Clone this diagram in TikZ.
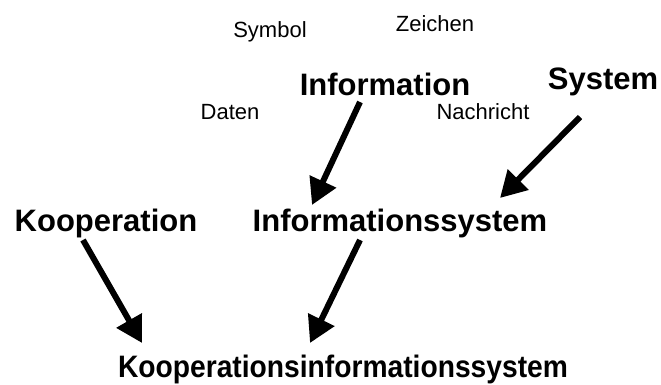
\documentclass[tikz,border=0pt]{standalone}
\usepackage{graphicx}
\usepackage{fontspec}
\setmainfont{Liberation Sans}
\usetikzlibrary{arrows.meta}
\tikzset{
    term/.style={inner sep=0pt, anchor=base, font=\fontsize{22}{26}\selectfont},
    concept/.style={inner sep=0pt, anchor=base, font=\fontsize{31}{36}\selectfont\bfseries},
    bigarrow/.style={line width=6pt, -{Triangle[length=26pt,width=28pt]}},
}
\begin{document}
\begin{tikzpicture}[x=1pt,y=1pt]
\useasboundingbox[fill=white] (0,0) rectangle (661,385);
\node[term] (symbol) at (270,347) {Symbol};
\node[term] (zeichen) at (435,353) {Zeichen};
\node[term] (daten) at (230,265) {Daten};
\node[term] (nachricht) at (483,265) {Nachricht};
\node[concept] (info) at (385,289) {Information};
\node[concept] (sys) at (603,295) {System};
\node[concept] (koop) at (106,153) {Kooperation};
\node[concept] (isys) at (400,153) {Informationssystem};
\node[concept] (kis) at (343,7) {\scalebox{0.91}[1]{Kooperationsinformationssystem}};
\draw[bigarrow] ([shift={(-25,-6)}]info.base) -- ([shift={(-88,27)}]isys.base);
\draw[bigarrow] ([shift={(-23,-27)}]sys.base) -- ([shift={(100,34)}]isys.base);
\draw[bigarrow] ([shift={(-23,-8)}]koop.base) -- ([shift={(-201,35)}]kis.base);
\draw[bigarrow] ([shift={(-40,-8)}]isys.base) -- ([shift={(-33,35)}]kis.base);
\end{tikzpicture}
\end{document}
